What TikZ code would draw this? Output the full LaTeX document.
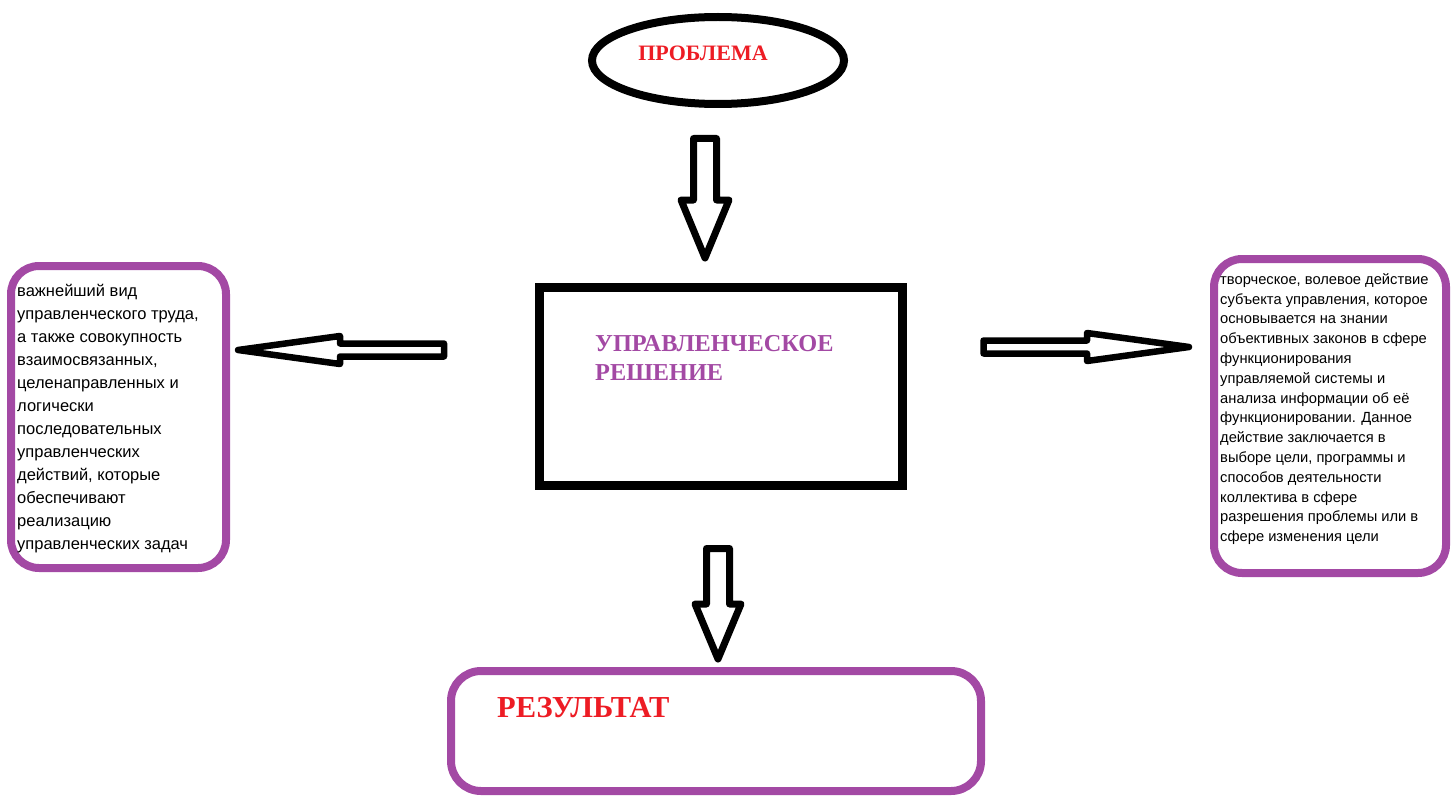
\documentclass[tikz,border=0pt]{standalone}
\usepackage{fontspec}
\setmainfont{Liberation Serif}
\newfontfamily\boxfont{Liberation Sans}
\usetikzlibrary{shapes.geometric,calc}
\definecolor{paintred}{RGB}{237,28,36}
\definecolor{paintpurple}{RGB}{163,73,164}
\tikzset{
  roundbox/.style={draw=paintpurple,line width=8pt,rounded corners=28pt,inner sep=0pt},
  blockarr/.style={draw=black,fill=white,line join=round},
  boxtext/.style={anchor=west,align=left,inner sep=0pt},
  title/.style={inner sep=0pt,text=paintred}
}
\newcommand{\blockarrow}[6][]{%
  \draw[blockarr,#1] let \p1=(#2), \p2=(#3),
    \n1={atan2(\y2-\y1,\x2-\x1)}, \n2={veclen(\x2-\x1,\y2-\y1)} in
    [shift={(\p1)},rotate=\n1]
    (0,#4) -- (\n2-#6,#4) -- (\n2-#6,#5) -- (\n2,0) -- (\n2-#6,-#5)
    -- (\n2-#6,-#4) -- (0,-#4) -- cycle;}
\begin{document}
\begin{tikzpicture}[x=1pt,y=-1pt]
\useasboundingbox (0,0) rectangle (1453,797);
\node[ellipse,draw,line width=8pt,minimum width=252pt,minimum height=87pt,inner sep=0pt]
  (prob) at (718,60.5) {};
\node[title,font=\bfseries\fontsize{22}{26}\selectfont] (probtext) at (703,53) {ПРОБЛЕМА};
\node[draw,line width=9pt,minimum width=363pt,minimum height=198pt,inner sep=0pt]
  (dec) at (721,386.5) {};
\node[boxtext,text=paintpurple,font=\bfseries\fontsize{24.3}{29}\selectfont]
  (dectext) at (595,357.5) {УПРАВЛЕНЧЕСКОЕ\\РЕШЕНИЕ};
\node[roundbox,minimum width=215pt,minimum height=302pt] (defl) at (118.5,417) {};
\node[boxtext,font=\boxfont\fontsize{16.5}{23}\selectfont] (defltext) at (17,418.5)
  {важнейший вид\\управленческого труда,\\а также совокупность\\взаимосвязанных,\\
   целенаправленных и\\логически\\последовательных\\управленческих\\
   действий, которые\\обеспечивают\\реализацию\\управленческих задач};
\node[roundbox,minimum width=232pt,minimum height=314pt] (defr) at (1330,416) {};
\node[boxtext,font=\boxfont\fontsize{14.7}{19.8}\selectfont] (defrtext) at (1220,409)
  {творческое, волевое действие\\субъекта управления, которое\\основывается на знании\\
   объективных законов в сфере\\функционирования\\управляемой системы и\\
   анализа информации об её\\функционировании. Данное\\действие заключается в\\
   выборе цели, программы и\\способов деятельности\\коллектива в сфере\\
   разрешения проблемы или в\\сфере изменения цели};
\node[roundbox,minimum width=530pt,minimum height=120pt,rounded corners=30pt] (res) at (716,731) {};
\node[title,anchor=west,font=\bfseries\fontsize{30.5}{32}\selectfont] (restext) at (497,708) {РЕЗУЛЬТАТ};
\coordinate (ptop1) at (705,138.5);
\coordinate (ptop2) at (705,258);
\coordinate (pbot1) at (718,548.5);
\coordinate (pbot2) at (718,659);
\coordinate (pl1) at (444,350);
\coordinate (pl2) at (238,350);
\coordinate (pr1) at (983.5,347);
\coordinate (pr2) at (1189,347);
\blockarrow[line width=7pt]{ptop1}{ptop2}{11.5}{24}{58}
\blockarrow[line width=7pt]{pbot1}{pbot2}{11.5}{23}{55}
\blockarrow[line width=6.5pt]{pl1}{pl2}{6.5}{14}{102}
\blockarrow[line width=6.5pt]{pr1}{pr2}{6.5}{14}{102}
\end{tikzpicture}
\end{document}
